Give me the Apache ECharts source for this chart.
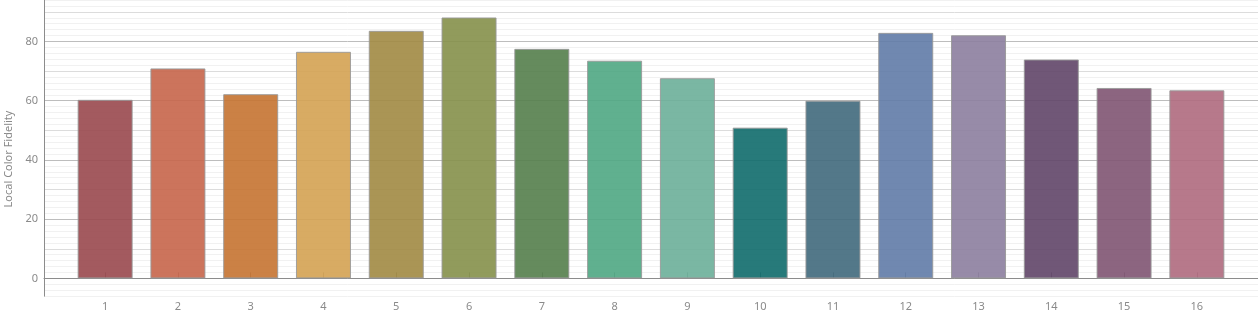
<!DOCTYPE html>
<html>
<head>
<meta charset="utf-8">
<script src="https://cdn.jsdelivr.net/npm/echarts@6/dist/echarts.min.js"></script>
<style>
html,body{margin:0;padding:0;background:#fff;}
#chart{width:1258px;height:315px;}
</style>
</head>
<body>
<div id="chart"></div>
<script>
const categories = [1, 2, 3, 4, 5, 6, 7, 8, 9, 10, 11, 12, 13, 14, 15, 16];
const values = [60.3, 70.9, 62.2, 76.5, 83.6, 88.1, 77.5, 73.5, 67.6, 50.9, 60.0, 82.9, 82.1, 73.9, 64.3, 63.5];
const barColors = ['#99484e', '#c6654a', '#c57331', '#d4a252', '#a18943', '#85904a', '#547e4b', '#4fa783',
                   '#6baf99', '#106b6c', '#40697c', '#607ba7', '#8c7e9f', '#614568', '#805472', '#af6a7e'];
const yTickLabels = [0, 20, 40, 60, 80];
const yAxisName = 'Local Color Fidelity';

const MAJOR = '#bdbdbd', MEDIUM = '#dcdcdc', MINOR = '#f1f1f1';
// ticks every 2 starting at -6: index 3 -> 0 (major), index 8 -> 10 (medium)
const splitColors = [MINOR, MINOR, MINOR, MAJOR, MINOR, MINOR, MINOR, MINOR, MEDIUM, MINOR];

const chart = echarts.init(document.getElementById('chart'), null, {renderer: 'canvas'});
const font = '"Noto Sans", sans-serif';

chart.setOption({
  animation: false,
  backgroundColor: '#ffffff',
  grid: {left: 44, right: 0, top: -1.3, bottom: 18.85, containLabel: false},
  xAxis: {
    type: 'value',
    min: 0.16,
    max: 16.84,
    axisLine: {show: true, lineStyle: {color: '#8c8c8c', width: 1}},
    axisTick: {show: true, inside: true, length: 6, lineStyle: {color: '#8c8c8c'}, customValues: categories},
    axisLabel: {show: true, customValues: categories, color: '#8a8a8a', fontSize: 11, fontFamily: font, margin: 5},
    splitLine: {show: false}
  },
  yAxis: {
    type: 'value',
    min: -6,
    max: 94,
    interval: 2,
    axisLine: {show: true, lineStyle: {color: '#8c8c8c', width: 1}},
    axisTick: {show: false},
    axisLabel: {
      show: true, color: '#8a8a8a', fontSize: 11, fontFamily: font, margin: 6,
      formatter: function (v) { return yTickLabels.indexOf(Math.round(v)) >= 0 && Math.abs(v - Math.round(v)) < 1e-6 ? String(Math.round(v)) : ''; }
    },
    splitLine: {show: true, lineStyle: {color: splitColors, width: 1}}
  },
  graphic: [{
    type: 'text',
    x: 9,
    y: 159,
    rotation: Math.PI / 2,
    style: {text: yAxisName, fill: '#8a8a8a', font: '11px ' + font, align: 'center', verticalAlign: 'middle'}
  }],
  series: [{
    type: 'bar',
    barWidth: 55,
    data: categories.map((c, i) => ({value: [c, values[i]], itemStyle: {color: barColors[i]}})),
    itemStyle: {borderColor: '#999999', borderWidth: 1, opacity: 0.9}
  }]
});
</script>
</body>
</html>
